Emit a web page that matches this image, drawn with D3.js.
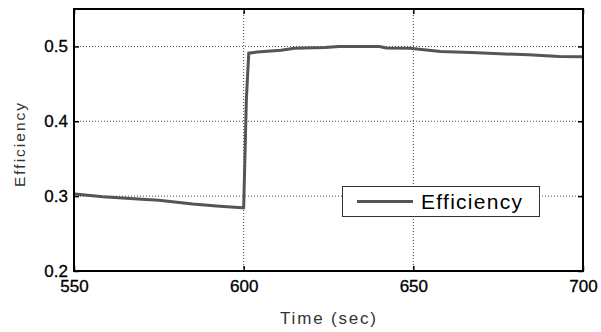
<!DOCTYPE html>
<html>
<head>
<meta charset="utf-8">
<script src="https://cdn.jsdelivr.net/npm/d3@7"></script>
<style>
  html, body { margin: 0; padding: 0; background: #fff; }
  svg { display: block; font-family: "Liberation Sans", Arial, sans-serif; }
</style>
</head>
<body>
<svg width="601" height="332"></svg>
<script>
// données
const times = [550, 551, 558.5, 570, 575, 585, 592, 599.5, 600, 600.8, 601.5, 604, 611, 615, 624, 628, 640, 642, 649, 658, 667, 675.5, 684, 693, 700];
const efficiency = [0.303, 0.3025, 0.2993, 0.296, 0.2945, 0.2896, 0.2869, 0.2846, 0.2846, 0.43, 0.491, 0.4925, 0.495, 0.4977, 0.4985, 0.4999, 0.4999, 0.4978, 0.4975, 0.4932, 0.4918, 0.4901, 0.4888, 0.4867, 0.4862];
const xTicks = [550, 600, 650, 700];
const yTicks = [0.2, 0.3, 0.4, 0.5];
const seriesName = "Efficiency";

const data = times.map((t, i) => ({ t: t, v: efficiency[i] }));

const svg = d3.select("svg");
const plotLeft = 74, plotRight = 583, plotTop = 9, plotBottom = 271;

const x = d3.scaleLinear().domain([550, 700]).range([plotLeft, plotRight]);
const y = d3.scaleLinear().domain([0.2, 0.55]).range([plotBottom, plotTop]);

// grille pointillée
svg.append("g")
    .selectAll("line")
    .data(xTicks.slice(1, -1))
    .join("line")
    .attr("x1", d => x(d)).attr("x2", d => x(d))
    .attr("y1", plotTop).attr("y2", plotBottom)
    .attr("stroke", "#444")
    .attr("stroke-dasharray", "1,2");

svg.append("g")
    .selectAll("line")
    .data(yTicks.slice(1))
    .join("line")
    .attr("x1", plotLeft).attr("x2", plotRight)
    .attr("y1", d => y(d)).attr("y2", d => y(d))
    .attr("stroke", "#444")
    .attr("stroke-dasharray", "1,2");

// axes (ticks vers l'intérieur)
svg.append("g")
    .attr("transform", `translate(0,${plotBottom})`)
    .call(d3.axisBottom(x).tickValues(xTicks).tickSize(-5).tickSizeOuter(0).tickPadding(9).tickFormat(d3.format("d")));
svg.append("g")
    .attr("transform", `translate(${plotLeft},0)`)
    .call(d3.axisLeft(y).tickValues(yTicks).tickSize(-5).tickSizeOuter(0).tickPadding(6).tickFormat(d3.format(".1f")));
svg.append("g")
    .attr("transform", `translate(0,${plotTop})`)
    .call(d3.axisTop(x).tickValues(xTicks).tickSize(-5).tickSizeOuter(0).tickFormat(""));
svg.append("g")
    .attr("transform", `translate(${plotRight},0)`)
    .call(d3.axisRight(y).tickValues(yTicks).tickSize(-5).tickSizeOuter(0).tickFormat(""));

svg.selectAll(".domain").remove();
svg.selectAll(".tick line").attr("stroke", "#000").attr("stroke-width", 1.5);
svg.selectAll(".tick text")
    .attr("font-family", "Liberation Sans, Arial, sans-serif")
    .attr("font-size", 17)
    .attr("fill", "#000")
    .attr("stroke", "#000")
    .attr("stroke-width", 0.3);

// courbe
svg.append("path")
    .datum(data)
    .attr("fill", "none")
    .attr("stroke", "#555")
    .attr("stroke-width", 3)
    .attr("d", d3.line().x(d => x(d.t)).y(d => y(d.v)));

// cadre
svg.append("rect")
    .attr("x", plotLeft).attr("y", plotTop)
    .attr("width", plotRight - plotLeft).attr("height", plotBottom - plotTop)
    .attr("fill", "none")
    .attr("stroke", "#000")
    .attr("stroke-width", 2);

// légende
const legend = svg.append("g");
legend.append("rect")
    .attr("x", 342.5).attr("y", 186.5)
    .attr("width", 197).attr("height", 30)
    .attr("fill", "#fff")
    .attr("stroke", "#333")
    .attr("stroke-width", 1);
legend.append("line")
    .attr("x1", 357).attr("x2", 413)
    .attr("y1", 201.5).attr("y2", 201.5)
    .attr("stroke", "#555")
    .attr("stroke-width", 3);
legend.append("text")
    .attr("x", 421).attr("y", 209)
    .attr("font-size", 21)
    .attr("textLength", 101)
    .attr("lengthAdjust", "spacing")
    .attr("fill", "#000")
    .text(seriesName);

// titres des axes
svg.append("text")
    .attr("x", 328).attr("y", 324)
    .attr("text-anchor", "middle")
    .attr("font-size", 17)
    .attr("textLength", 96)
    .attr("lengthAdjust", "spacing")
    .attr("fill", "#333")
    .text("Time (sec)");

svg.append("text")
    .attr("transform", "translate(25,145) rotate(-90)")
    .attr("text-anchor", "middle")
    .attr("font-size", 15.5)
    .attr("textLength", 84)
    .attr("lengthAdjust", "spacing")
    .attr("fill", "#333")
    .text("Efficiency");
</script>
</body>
</html>
